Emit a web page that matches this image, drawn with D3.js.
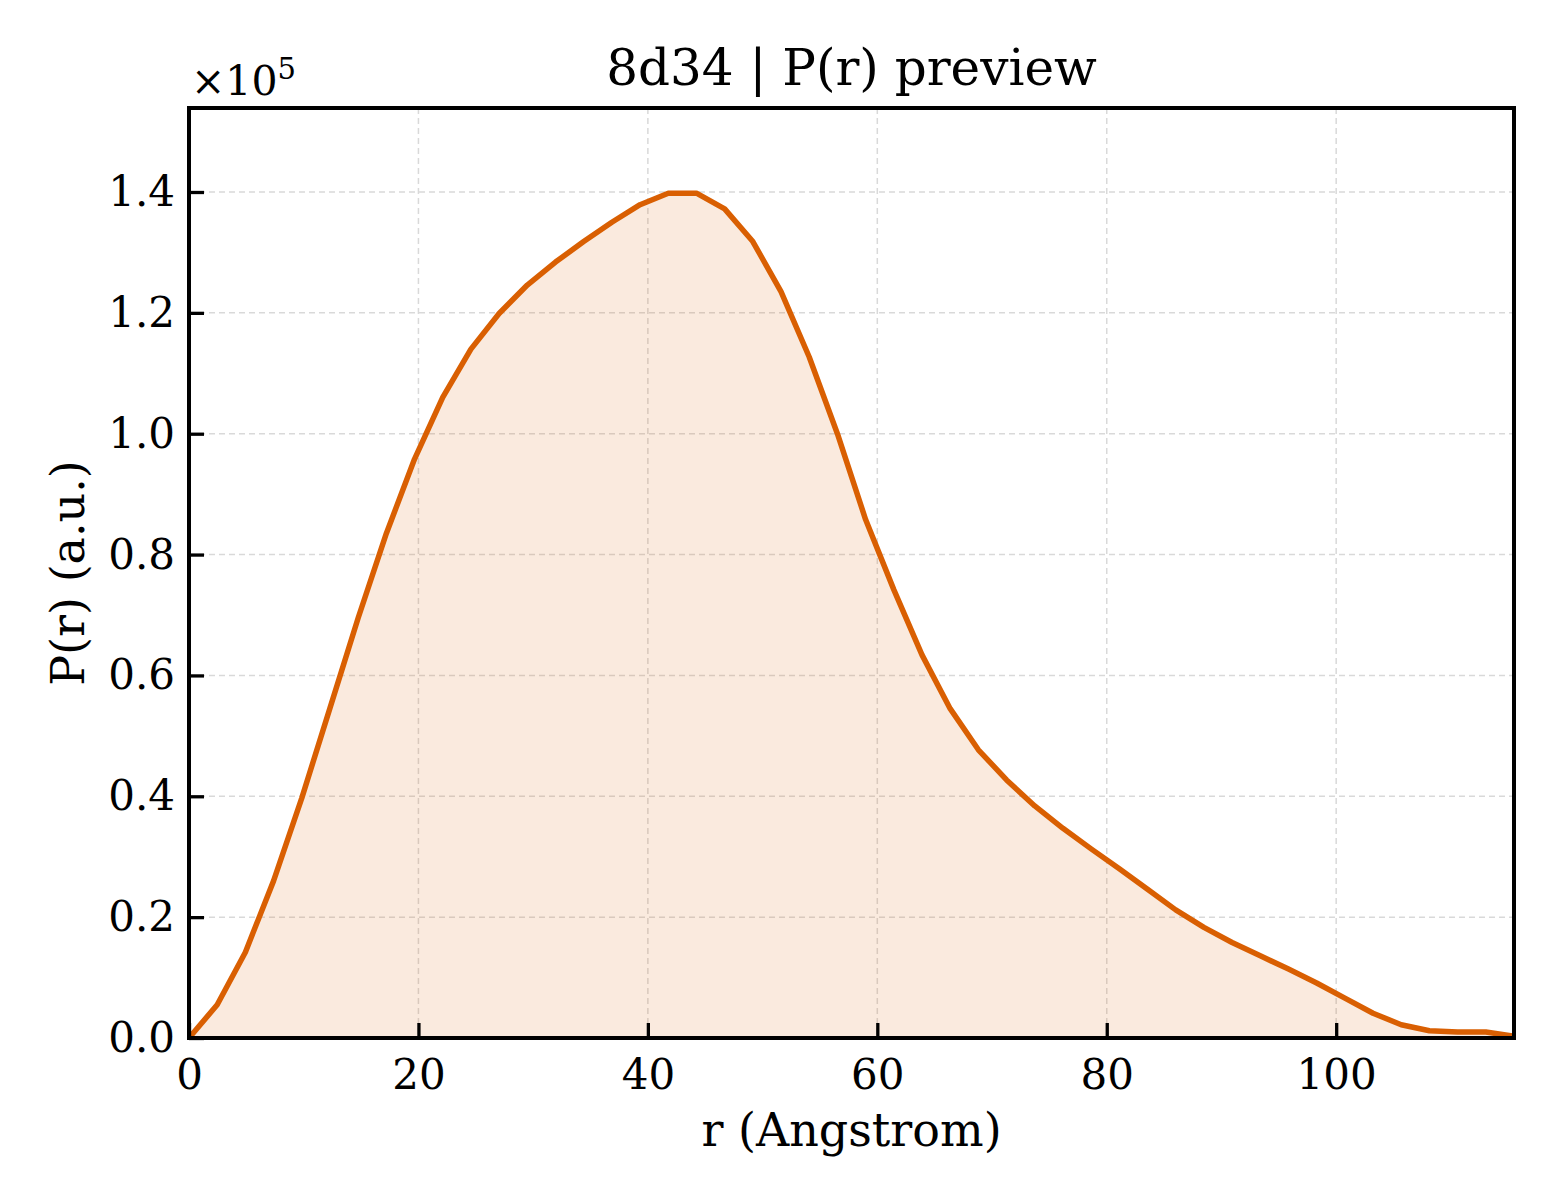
<!DOCTYPE html>
<html>
<head>
<meta charset="utf-8">
<script src="https://cdn.jsdelivr.net/npm/d3@7"></script>
<style>
  body { margin: 0; background: #fff; }
  svg text { font-family: "DejaVu Serif", serif; fill: #000; }
</style>
</head>
<body>
<svg width="1560" height="1200"></svg>
<script>
const rMax = 115.5;
const prScaled = [
  0.000, 0.055, 0.142, 0.260, 0.397, 0.546, 0.695, 0.835, 0.958, 1.060,
  1.140, 1.199, 1.246, 1.284, 1.318, 1.350, 1.379, 1.398, 1.398, 1.372,
  1.318, 1.235, 1.127, 1.000, 0.858, 0.742, 0.634, 0.545, 0.477, 0.427,
  0.384, 0.347, 0.313, 0.280, 0.246, 0.212, 0.183, 0.158, 0.136, 0.114,
  0.091, 0.066, 0.041, 0.022, 0.012, 0.010, 0.010, 0.003
];
const rValues = prScaled.map((d, i) => i * rMax / (prScaled.length - 1));
const prValues = prScaled.map(d => d * 1e5);
const xTicks = [0, 20, 40, 60, 80, 100];
const yTicks = [0, 0.2e5, 0.4e5, 0.6e5, 0.8e5, 1.0e5, 1.2e5, 1.4e5];

const svg = d3.select("svg");
const plotL = 189, plotR = 1514, plotT = 108, plotB = 1038;

const x = d3.scaleLinear().domain([0, rMax]).range([plotL, plotR]);
const y = d3.scaleLinear().domain([0, 1.539e5]).range([plotB, plotT]);

// grid
svg.append("g").selectAll("line").data(xTicks.slice(1)).join("line")
    .attr("x1", d => x(d)).attr("x2", d => x(d))
    .attr("y1", plotT).attr("y2", plotB)
    .attr("stroke", "#d9d9d9").attr("stroke-width", 1.5)
    .attr("stroke-dasharray", "6,4");
svg.append("g").selectAll("line").data(yTicks.slice(1)).join("line")
    .attr("x1", plotL).attr("x2", plotR)
    .attr("y1", d => y(d)).attr("y2", d => y(d))
    .attr("stroke", "#d9d9d9").attr("stroke-width", 1.5)
    .attr("stroke-dasharray", "6,4");

const pts = rValues.map((r, i) => [r, prValues[i]]);

svg.append("path")
    .datum(pts)
    .attr("fill", "#d95f02")
    .attr("fill-opacity", 0.13)
    .attr("d", d3.area().x(d => x(d[0])).y0(y(0)).y1(d => y(d[1])));

svg.append("path")
    .datum(pts)
    .attr("fill", "none")
    .attr("stroke", "#d95f02")
    .attr("stroke-width", 5.5)
    .attr("stroke-linejoin", "round")
    .attr("d", d3.line().x(d => x(d[0])).y(d => y(d[1])));

// axes, ticks pointing inward
const xAxis = svg.append("g")
    .attr("transform", `translate(0,${plotB})`)
    .call(d3.axisBottom(x).tickValues(xTicks).tickSize(-15).tickPadding(21).tickFormat(d3.format("d")));
const yAxis = svg.append("g")
    .attr("transform", `translate(${plotL},0)`)
    .call(d3.axisLeft(y).tickValues(yTicks).tickSize(-15).tickPadding(14).tickFormat(d => (d / 1e5).toFixed(1)));

[xAxis, yAxis].forEach(g => {
    g.select(".domain").remove();
    g.selectAll(".tick line").attr("stroke", "#000").attr("stroke-width", 3.3);
    g.selectAll(".tick text").attr("font-size", 42).attr("font-family", "DejaVu Serif");
});

svg.append("rect")
    .attr("x", plotL).attr("y", plotT)
    .attr("width", plotR - plotL).attr("height", plotB - plotT)
    .attr("fill", "none").attr("stroke", "#000").attr("stroke-width", 4);

// labels
svg.append("text")
    .attr("x", (plotL + plotR) / 2).attr("y", 85)
    .attr("text-anchor", "middle").attr("font-size", 50)
    .text("8d34 | P(r) preview");

svg.append("text")
    .attr("x", (plotL + plotR) / 2).attr("y", 1146)
    .attr("text-anchor", "middle").attr("font-size", 46)
    .text("r (Angstrom)");

svg.append("text")
    .attr("transform", `translate(84,${(plotT + plotB) / 2}) rotate(-90)`)
    .attr("text-anchor", "middle").attr("font-size", 46)
    .text("P(r) (a.u.)");

const mult = svg.append("text")
    .attr("x", 191).attr("y", 95).attr("font-size", 41);
mult.append("tspan").text("×10");
mult.append("tspan").attr("font-size", 29).attr("dy", -16).text("5");
</script>
</body>
</html>
